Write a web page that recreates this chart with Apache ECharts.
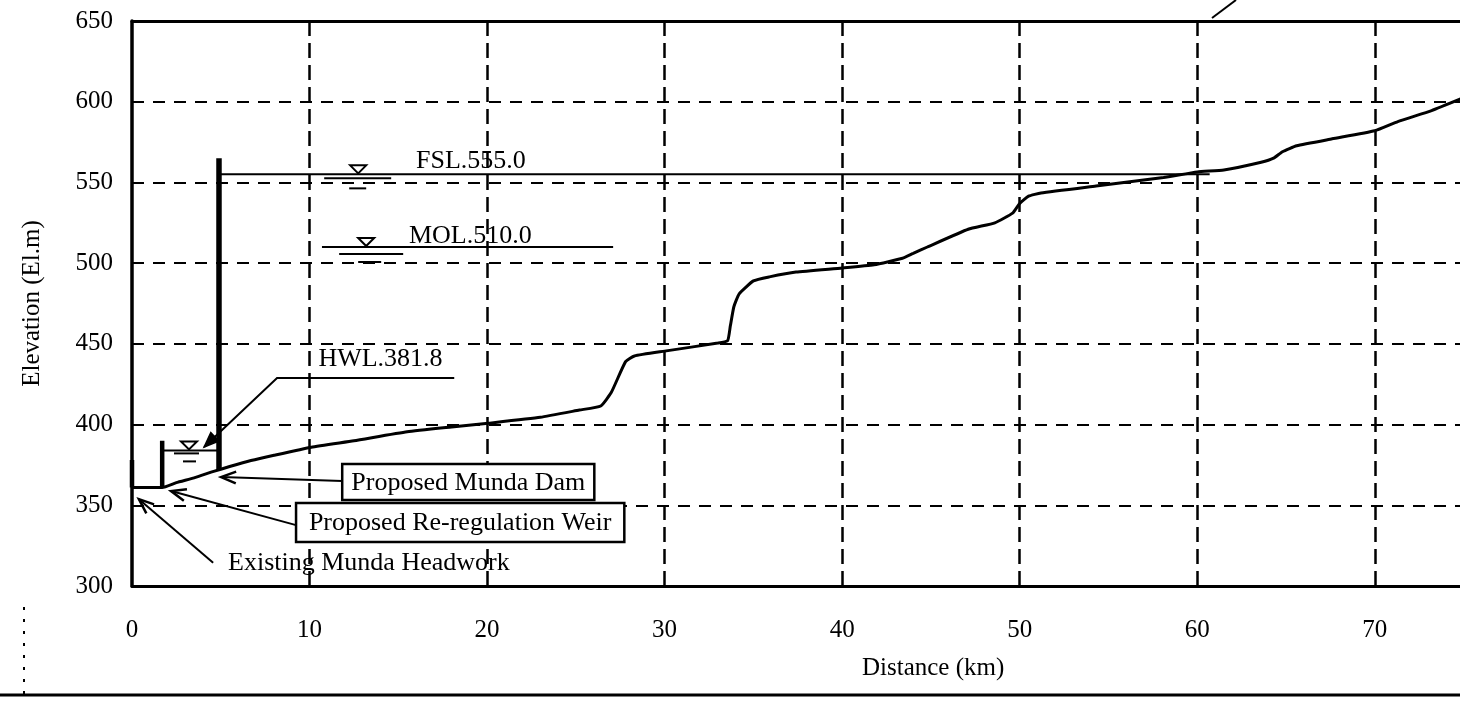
<!DOCTYPE html>
<html>
<head>
<meta charset="utf-8">
<script src="https://cdn.jsdelivr.net/npm/echarts@6/dist/echarts.min.js"></script>
<style>
html,body{margin:0;padding:0;background:#ffffff;}
#chart{width:1460px;height:704px;}
</style>
</head>
<body>
<div id="chart"></div>
<script>
// ---------------- data ----------------
const xTickValues = [0, 10, 20, 30, 40, 50, 60, 70];
const yTickValues = [300, 350, 400, 450, 500, 550, 600, 650];

// river bed longitudinal profile (distance km, elevation El.m)
const profileKm = [0, 1.7, 2.5, 3.5, 4.6, 5.5, 6.7, 8.0, 10.1, 12.5, 15.5, 18, 20.2, 23, 25.2, 26.4, 27.0, 27.8, 28.3, 30, 33, 33.55, 33.7, 33.9, 34.2, 35.0, 35.9, 37.4, 40, 41.8, 43.4, 44.0, 44.8, 47.1, 48.6, 49.6, 50.0, 50.5, 51.2, 54.3, 58.1, 60, 61.5, 63.6, 64.3, 64.8, 65.6, 67.6, 70, 71.3, 73.2, 74.9];
const profileElev = [361, 361, 364, 367, 371, 374, 377.7, 381, 386, 390, 395.5, 398.5, 401, 404.5, 409, 411.5, 420, 439, 442.5, 445.5, 450.5, 452, 461, 473, 481, 489, 491.5, 494.5, 497, 499, 503, 506, 510, 521, 525, 531, 537, 541.5, 543.5, 547.8, 553, 556.5, 557.7, 562.5, 565, 569, 572.7, 577, 582, 587.7, 594.5, 602];

// structures (vertical bars)
const structureNames = ['Existing Munda Headwork', 'Proposed Re-regulation Weir', 'Proposed Munda Dam'];
const structureKm = [0, 1.7, 4.9];
const structureBase = [361, 361, 372];
const structureTop = [378, 390, 565];

// water levels
const waterLabels = ['FSL.555.0', 'MOL.510.0', 'HWL.381.8'];
const waterElev = [555, 510, 384];
const waterFromKm = [4.9, 10.7, 1.7];
const waterToKm = [60.7, 27.1, 4.9];
const waterSymbolKm = [12.74, 13.19, 3.21];

// ---------------- annotation layout (data coordinates) ----------------
const textAnchors = [
  {text: waterLabels[0], at: [16.0, 562.9]},
  {text: waterLabels[1], at: [15.6, 516.5]},
  {text: waterLabels[2], at: [10.5, 440.6]},
  {text: structureNames[0], at: [5.41, 314.4]}
];
const boxes = [
  {text: structureNames[2], from: [11.84, 375.5], to: [26.04, 353.2]},
  {text: structureNames[1], from: [9.24, 351.4], to: [27.73, 327.2]}
];
const leaders = [
  {pts: [[4.57, 314.4], [0.39, 353.8]], head: 'open'},
  {pts: [[9.24, 337.7], [2.2, 358.8]], head: 'open'},
  {pts: [[11.84, 365.0], [5.02, 367.5]], head: 'open'},
  {pts: [[18.15, 428.8], [8.17, 428.8], [4.06, 386.1]], head: 'filled'}
];
// water symbol pixel geometry: sub-lines [dy, x0, x1] relative to the symbol centre
const waterSymbolLines = [
  [[4, -34, 33], [14, -9, 8]],
  [[7, -27, 37], [15, -8, 15]],
  [[3, -15, 10], [11, -6, 7]]
];

const FONT = "'Liberation Serif', 'Times New Roman', serif";

function renderAnnotations(params, api) {
  const children = [];
  const C = (p) => api.coord(p);
  const lineStyle = {stroke: '#000', lineWidth: 2, fill: null};

  // water symbols
  for (let i = 0; i < waterElev.length; i++) {
    const c = C([waterSymbolKm[i], waterElev[i]]);
    const cx = c[0], cy = c[1] - 1;
    children.push({
      type: 'polygon',
      shape: {points: [[cx - 8, cy - 8], [cx + 8, cy - 8], [cx, cy]]},
      style: {stroke: '#000', lineWidth: 2, fill: '#fff'}
    });
    waterSymbolLines[i].forEach(function (s) {
      children.push({
        type: 'line',
        shape: {x1: cx + s[1], y1: c[1] + s[0], x2: cx + s[2], y2: c[1] + s[0]},
        style: lineStyle
      });
    });
  }

  // leaders with arrow heads
  leaders.forEach(function (ld) {
    const pts = ld.pts.map(C);
    children.push({type: 'polyline', shape: {points: pts}, style: {stroke: '#000', lineWidth: 2, fill: null}});
    const tip = pts[pts.length - 1], prev = pts[pts.length - 2];
    const ang = Math.atan2(prev[1] - tip[1], prev[0] - tip[0]);
    const L = 16, a = 0.38;
    const p1 = [tip[0] + L * Math.cos(ang + a), tip[1] + L * Math.sin(ang + a)];
    const p2 = [tip[0] + L * Math.cos(ang - a), tip[1] + L * Math.sin(ang - a)];
    if (ld.head === 'filled') {
      children.push({type: 'polygon', shape: {points: [p1, tip, p2]}, style: {fill: '#000', stroke: '#000', lineWidth: 1.5}});
    } else {
      children.push({type: 'polyline', shape: {points: [p1, tip, p2]}, style: {stroke: '#000', lineWidth: 2.5, fill: null}});
    }
  });

  // boxes
  boxes.forEach(function (b) {
    const a = C(b.from), z = C(b.to);
    children.push({
      type: 'rect',
      shape: {x: a[0], y: a[1], width: z[0] - a[0], height: z[1] - a[1]},
      style: {fill: '#fff', stroke: '#000', lineWidth: 2.5}
    });
    children.push({
      type: 'text',
      style: {text: b.text, x: (a[0] + z[0]) / 2, y: (a[1] + z[1]) / 2 + 1, align: 'center', verticalAlign: 'middle',
        font: '26px ' + FONT, fill: '#000'}
    });
  });

  // free texts
  textAnchors.forEach(function (t) {
    const p = C(t.at);
    children.push({
      type: 'text',
      style: {text: t.text, x: p[0], y: p[1], align: 'left', verticalAlign: 'middle', font: '26px ' + FONT, fill: '#000'}
    });
  });

  return {type: 'group', children: children};
}

const series = [];
series.push({
  name: 'River bed', type: 'line', data: profileKm.map((k, i) => [k, profileElev[i]]),
  symbol: 'none', smooth: 0.15, lineStyle: {color: '#000', width: 3}, z: 5
});
structureNames.forEach(function (n, i) {
  series.push({
    name: n, type: 'line', data: [[structureKm[i], structureBase[i]], [structureKm[i], structureTop[i]]],
    symbol: 'none', lineStyle: {color: '#000', width: i === 2 ? 5.5 : 4.5}, z: 6
  });
});
waterLabels.forEach(function (n, i) {
  series.push({
    name: n, type: 'line', data: [[waterFromKm[i], waterElev[i]], [waterToKm[i], waterElev[i]]],
    symbol: 'none', lineStyle: {color: '#000', width: 2}, z: 4
  });
});
series.push({
  type: 'custom', renderItem: renderAnnotations, data: [[0, 300]], silent: true, z: 10, clip: false
});

const chart = echarts.init(document.getElementById('chart'), null, {renderer: 'canvas'});
chart.setOption({
  animation: false,
  backgroundColor: '#ffffff',
  grid: {left: 132, right: 0, top: 21, bottom: 118, containLabel: false, outerBoundsMode: 'none'},
  xAxis: [{
    type: 'value', min: 0, max: 74.8, interval: 10, position: 'bottom',
    axisLine: {show: true, lineStyle: {color: '#000', width: 3}},
    axisTick: {show: false},
    axisLabel: {
      color: '#000', fontFamily: FONT, fontSize: 25, margin: 32, showMaxLabel: false,
      formatter: function (v) { return xTickValues.indexOf(v) >= 0 ? String(v) : ''; }
    },
    splitLine: {show: true, showMinLine: false, showMaxLine: false, lineStyle: {color: '#000', width: 2.5, type: [15, 7]}}
  }, {
    type: 'value', min: 0, max: 74.8, position: 'top',
    axisLine: {show: true, onZero: false, lineStyle: {color: '#000', width: 3}},
    axisTick: {show: false}, axisLabel: {show: false}, splitLine: {show: false}
  }],
  yAxis: {
    type: 'value', min: 300, max: 650, interval: 50,
    name: 'Elevation (El.m)', nameLocation: 'middle', nameGap: 87, nameRotate: 90,
    nameTextStyle: {color: '#000', fontFamily: FONT, fontSize: 25},
    axisLine: {show: true, lineStyle: {color: '#000', width: 3.5}},
    axisTick: {show: false},
    axisLabel: {
      color: '#000', fontFamily: FONT, fontSize: 25, margin: 19,
      formatter: function (v) { return yTickValues.indexOf(v) >= 0 ? String(v) : ''; }
    },
    splitLine: {show: true, lineStyle: {color: '#000', width: 2, type: [12, 9]}}
  },
  graphic: [
    {type: 'text', left: 862, top: 656, style: {text: 'Distance (km)', font: '25px ' + FONT, fill: '#000'}},
    {type: 'line', shape: {x1: 0, y1: 695, x2: 1460, y2: 695}, style: {stroke: '#000', lineWidth: 3}},
    {type: 'line', shape: {x1: 24, y1: 607, x2: 24, y2: 695}, style: {stroke: '#000', lineWidth: 2, lineDash: [3, 9]}},
    {type: 'line', shape: {x1: 1212, y1: 18, x2: 1236, y2: 0}, style: {stroke: '#000', lineWidth: 2}}
  ],
  series: series
});
</script>
</body>
</html>
